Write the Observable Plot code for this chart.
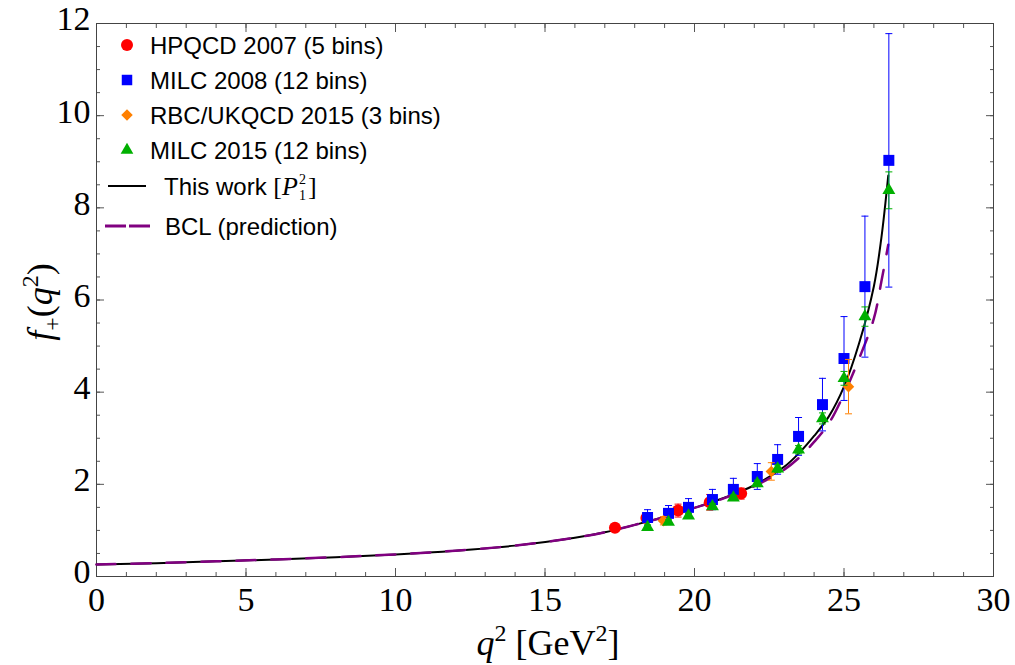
<!DOCTYPE html>
<html>
<head>
<meta charset="utf-8">
<script src="https://cdn.jsdelivr.net/npm/d3@7"></script>
<script src="https://cdn.jsdelivr.net/npm/@observablehq/plot@0.6"></script>
<style>
  html, body { margin: 0; padding: 0; background: white; }
  #chart { width: 1015px; height: 665px; }
</style>
</head>
<body>
<div id="chart"></div>
<script>
// ---- Data ----
const hpqcdQ   = [17.34, 18.39, 19.45, 20.51, 21.56];
const hpqcdF   = [1.06, 1.27, 1.43, 1.61, 1.80];
const hpqcdErr = [0.07, 0.09, 0.14, 0.17, 0.12];

const milc08Q   = [18.43, 19.13, 19.80, 20.60, 21.30, 22.10, 22.78, 23.48, 24.28, 25.00, 25.70, 26.50];
const milc08F   = [1.28, 1.37, 1.50, 1.67, 1.89, 2.17, 2.54, 3.04, 3.73, 4.73, 6.29, 9.03];
const milc08Err = [0.17, 0.17, 0.19, 0.22, 0.24, 0.28, 0.32, 0.41, 0.57, 0.91, 1.53, 2.75];

const rbcQ   = [18.96, 22.57, 25.15];
const rbcF   = [1.21, 2.28, 4.12];
const rbcErr = [0.09, 0.19, 0.59];

const milc15Q   = [18.43, 19.13, 19.80, 20.60, 21.30, 22.10, 22.78, 23.48, 24.28, 25.00, 25.70, 26.50];
const milc15F   = [1.07, 1.18, 1.32, 1.52, 1.71, 2.02, 2.34, 2.75, 3.43, 4.30, 5.64, 8.38];
const milc15Err = [0.05, 0.05, 0.05, 0.06, 0.06, 0.07, 0.08, 0.09, 0.12, 0.15, 0.21, 0.40];

const thisWorkQ = [0, 2, 4, 6, 8, 10, 12, 14, 16, 17, 18, 19, 20, 21, 22, 23, 23.5, 24, 24.5, 25, 25.5, 26, 26.25, 26.48];
const thisWorkF = [0.26, 0.29, 0.33, 0.37, 0.42, 0.48, 0.56, 0.67, 0.84, 0.96, 1.12, 1.29, 1.49, 1.71, 1.98, 2.38, 2.68, 3.05, 3.48, 4.12, 5.05, 6.3, 7.35, 8.7];

const bclQ = [0, 2, 4, 6, 8, 10, 12, 14, 16, 17, 18, 19, 20, 21, 22, 23, 23.5, 24, 24.5, 25, 25.5, 26, 26.25, 26.48];
const bclF = [0.26, 0.29, 0.33, 0.37, 0.42, 0.48, 0.56, 0.67, 0.84, 0.96, 1.12, 1.29, 1.49, 1.70, 1.96, 2.32, 2.58, 2.92, 3.33, 3.96, 4.72, 5.6, 6.4, 7.2];

const xMajorTicks = [0, 5, 10, 15, 20, 25, 30];
const yMajorTicks = [0, 2, 4, 6, 8, 10, 12];

const legendLabels = ["HPQCD 2007 (5 bins)", "MILC 2008 (12 bins)", "RBC/UKQCD 2015 (3 bins)", "MILC 2015 (12 bins)", "This work", "BCL (prediction)"];

// ---- Build tables ----
const rows = (q, f, e) => q.map((x, i) => ({q: x, f: f[i], e: e ? e[i] : 0}));
const hpqcd = rows(hpqcdQ, hpqcdF, hpqcdErr);
const milc08 = rows(milc08Q, milc08F, milc08Err);
const rbc = rows(rbcQ, rbcF, rbcErr);
const milc15 = rows(milc15Q, milc15F, milc15Err);
const thisWork = rows(thisWorkQ, thisWorkF);
const bcl = rows(bclQ, bclF);

const RED = "#ff0000", BLUE = "#0000ff", ORANGE = "#ff8000", GREEN = "#00b000", PURPLE = "#800080";

const xMinor = d3.range(0, 31, 1);
const yMinor = d3.range(0, 12.01, 0.5);

const cap = { draw(ctx, size) { const w = Math.sqrt(size / Math.PI); ctx.moveTo(-w, 0); ctx.lineTo(w, 0); } };

function errorMarks(data, color) {
  return [
    Plot.ruleX(data, {x: "q", y1: d => d.f - d.e, y2: d => d.f + d.e, stroke: color, strokeWidth: 1}),
    Plot.dot(data, {x: "q", y: d => d.f + d.e, symbol: cap, r: 3.5, stroke: color, strokeWidth: 1}),
    Plot.dot(data, {x: "q", y: d => d.f - d.e, symbol: cap, r: 3.5, stroke: color, strokeWidth: 1})
  ];
}

const tickStroke = "#555";
const fontSerif = "'Liberation Serif', 'Times New Roman', serif";
const fontSans = "'Liberation Sans', Arial, sans-serif";

const chart = Plot.plot({
  width: 1015,
  height: 665,
  marginLeft: 96,
  marginRight: 22,
  marginTop: 23,
  marginBottom: 89,
  x: {domain: [0, 30]},
  y: {domain: [0, 12]},
  style: {fontFamily: fontSerif, fontSize: "34px", background: "white", overflow: "visible"},
  marks: [
    // tick labels
    Plot.axisX({anchor: "bottom", ticks: xMajorTicks, tickSize: 0, tickPadding: 10, label: null, fontSize: 34, fill: "black"}),
    Plot.axisY({anchor: "left", ticks: yMajorTicks, tickSize: 0, tickPadding: 6, label: null, fontSize: 34, fill: "black", dy: -4}),
    // inward ticks on all sides
    Plot.axisX({anchor: "bottom", ticks: xMajorTicks, tickSize: -8, tickFormat: () => "", label: null, stroke: tickStroke}),
    Plot.axisX({anchor: "bottom", ticks: xMinor, tickSize: -4, tickFormat: () => "", label: null, stroke: tickStroke}),
    Plot.axisX({anchor: "top", ticks: xMajorTicks, tickSize: -8, tickFormat: () => "", label: null, stroke: tickStroke}),
    Plot.axisX({anchor: "top", ticks: xMinor, tickSize: -4, tickFormat: () => "", label: null, stroke: tickStroke}),
    Plot.axisY({anchor: "left", ticks: yMajorTicks, tickSize: -8, tickFormat: () => "", label: null, stroke: tickStroke}),
    Plot.axisY({anchor: "left", ticks: yMinor, tickSize: -4, tickFormat: () => "", label: null, stroke: tickStroke}),
    Plot.axisY({anchor: "right", ticks: yMajorTicks, tickSize: -8, tickFormat: () => "", label: null, stroke: tickStroke}),
    Plot.axisY({anchor: "right", ticks: yMinor, tickSize: -4, tickFormat: () => "", label: null, stroke: tickStroke}),
    Plot.frame({stroke: "#444", strokeWidth: 1}),
    // curves
    Plot.line(thisWork, {x: "q", y: "f", stroke: "black", strokeWidth: 2, curve: "catmull-rom"}),
    Plot.line(bcl, {x: "q", y: "f", stroke: PURPLE, strokeWidth: 2.5, strokeDasharray: "19,16", curve: "catmull-rom"}),
    // data with error bars
    ...errorMarks(hpqcd, RED),
    Plot.dot(hpqcd, {x: "q", y: "f", symbol: "circle", r: 6, fill: RED}),
    ...errorMarks(milc08, BLUE),
    Plot.dot(milc08, {x: "q", y: "f", symbol: "square", r: 6.2, fill: BLUE}),
    ...errorMarks(rbc, ORANGE),
    Plot.dot(rbc, {x: "q", y: "f", symbol: "diamond2", r: 5.2, fill: ORANGE}),
    ...errorMarks(milc15, GREEN),
    Plot.dot(milc15, {x: "q", y: "f", symbol: "triangle", r: 4.8, fill: GREEN})
  ]
});

document.getElementById("chart").appendChild(chart);

// ---- Axis titles and legend (drawn into the same SVG) ----
const svg = d3.select(chart);

// y title: f_+(q^2)
const yt = svg.append("text")
  .attr("transform", "translate(52,302) rotate(-90)")
  .attr("text-anchor", "middle")
  .attr("font-family", fontSerif)
  .attr("font-size", 36)
  .attr("fill", "black");
yt.append("tspan").attr("font-style", "italic").text("f");
yt.append("tspan").attr("font-size", 24).attr("dy", 8).text("+");
yt.append("tspan").attr("dy", -8).text("(");
yt.append("tspan").attr("font-style", "italic").text("q");
yt.append("tspan").attr("font-size", 24).attr("dy", -14).text("2");
yt.append("tspan").attr("dy", 14).text(")");

// x title: q^2 [GeV^2]
const xt = svg.append("text")
  .attr("x", 548).attr("y", 655)
  .attr("text-anchor", "middle")
  .attr("font-family", fontSerif)
  .attr("font-size", 36)
  .attr("fill", "black");
xt.append("tspan").attr("font-style", "italic").text("q");
xt.append("tspan").attr("font-size", 24).attr("dy", -14).text("2");
xt.append("tspan").attr("dy", 14).text(" [GeV");
xt.append("tspan").attr("font-size", 24).attr("dy", -14).text("2");
xt.append("tspan").attr("dy", 14).text("]");

// legend
const lg = svg.append("g").attr("font-family", fontSans).attr("font-size", 24)
  .attr("fill", "black").attr("text-anchor", "start");
const rowY = [45, 80, 115, 150, 186, 226];
const markers = [
  {type: d3.symbolCircle, size: Math.PI * 36, color: RED},
  {type: d3.symbolSquare, size: 110, color: BLUE},
  {type: d3.symbolDiamond2, size: 85, color: ORANGE},
  {type: d3.symbolTriangle, size: 70, color: GREEN}
];
markers.forEach((m, i) => {
  lg.append("path").attr("d", d3.symbol(m.type, m.size)()).attr("fill", m.color)
    .attr("transform", `translate(127,${rowY[i]})`);
  lg.append("text").attr("x", 150).attr("y", rowY[i]).attr("dy", "0.36em").text(legendLabels[i]);
});
// This work [P_1^2]
lg.append("line").attr("x1", 108).attr("x2", 146).attr("y1", rowY[4]).attr("y2", rowY[4])
  .attr("stroke", "black").attr("stroke-width", 2);
const base = rowY[4] + 8.6;
const tw = lg.append("text").attr("x", 164).attr("y", base);
tw.append("tspan").text(legendLabels[4] + " ");
tw.append("tspan").attr("font-family", fontSerif).attr("font-size", 26).text("[");
tw.append("tspan").attr("font-family", fontSerif).attr("font-size", 26).attr("font-style", "italic").text("P");
const pEnd = tw.node().getBBox().x + tw.node().getBBox().width;
lg.append("text").attr("x", pEnd + 1).attr("y", base - 11)
  .attr("font-family", fontSerif).attr("font-size", 14).text("2");
lg.append("text").attr("x", pEnd + 1).attr("y", base + 5)
  .attr("font-family", fontSerif).attr("font-size", 14).text("1");
lg.append("text").attr("x", pEnd + 10).attr("y", base)
  .attr("font-family", fontSerif).attr("font-size", 26).text("]");
// BCL
lg.append("line").attr("x1", 105).attr("x2", 150).attr("y1", rowY[5]).attr("y2", rowY[5])
  .attr("stroke", PURPLE).attr("stroke-width", 3).attr("stroke-dasharray", "21,3");
lg.append("text").attr("x", 165).attr("y", rowY[5]).attr("dy", "0.36em").text(legendLabels[5]);
</script>
</body>
</html>
